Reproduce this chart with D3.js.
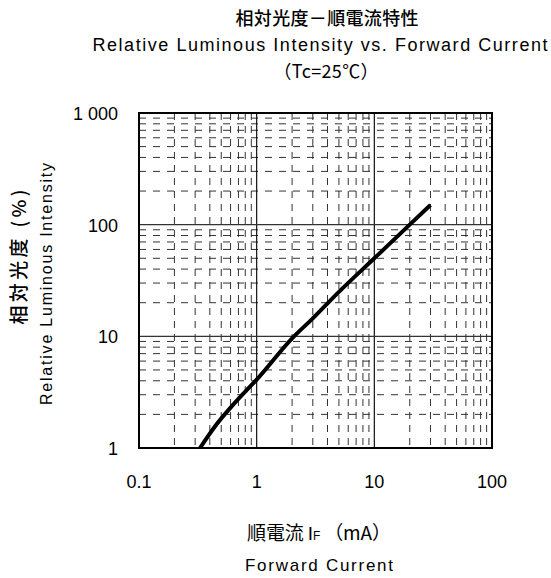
<!DOCTYPE html>
<html>
<head>
<meta charset="utf-8">
<script src="https://cdn.jsdelivr.net/npm/d3@7"></script>
<style>
  html, body { margin: 0; padding: 0; background: #fff; }
  svg { display: block; }
  .cjk { font-family: "Noto Sans CJK JP", "Noto Sans", sans-serif; }
  .lat { font-family: "Liberation Sans", Arial, sans-serif; }
</style>
</head>
<body>
<script>
// Forward current (mA) and relative luminous intensity (%) along the curve
const currentMA = [0.33, 0.45, 0.6, 0.8, 1, 2, 3, 5, 10, 20, 30];
const intensityPct = [1, 1.6, 2.3, 3.2, 4.1, 9.6, 14.5, 25, 50, 100, 150];

// Axis ranges and tick labels
const xDomain = [0.1, 100];
const yDomain = [1, 1000];
const xTicks = [0.1, 1, 10, 100];
const xTickLabels = ["0.1", "1", "10", "100"];
const yTicks = [1, 10, 100, 1000];
const yTickLabels = ["1", "10", "100", "1 000"];

const W = 551, H = 578;
const plot = { left: 139, top: 113, right: 492, bottom: 448 };

const svg = d3.select("body").append("svg").attr("width", W).attr("height", H);

const x = d3.scaleLog().domain(xDomain).range([plot.left, plot.right]);
const y = d3.scaleLog().domain(yDomain).range([plot.bottom, plot.top]);

// Minor grid values: 2..9 within each decade
const minorVals = (dom) => {
  const out = [];
  for (let d = dom[0]; d < dom[1] * 0.999; d *= 10) {
    for (let k = 2; k <= 9; k++) out.push(d * k);
  }
  return out;
};

const grid = svg.append("g");

// dashed minor verticals
grid.selectAll("line.vmin").data(minorVals(xDomain)).join("line")
  .attr("x1", d => x(d)).attr("x2", d => x(d))
  .attr("y1", plot.top).attr("y2", plot.bottom)
  .attr("stroke", "#333").attr("stroke-width", 1)
  .attr("stroke-dasharray", "7,6");

// dashed minor horizontals
grid.selectAll("line.hmin").data(minorVals(yDomain)).join("line")
  .attr("y1", d => y(d)).attr("y2", d => y(d))
  .attr("x1", plot.left).attr("x2", plot.right)
  .attr("stroke", "#333").attr("stroke-width", 1)
  .attr("stroke-dasharray", "7,7");

// solid major gridlines
grid.selectAll("line.vmaj").data(xTicks.slice(1, -1)).join("line")
  .attr("x1", d => x(d)).attr("x2", d => x(d))
  .attr("y1", plot.top).attr("y2", plot.bottom)
  .attr("stroke", "#111").attr("stroke-width", 1.2);
grid.selectAll("line.hmaj").data(yTicks.slice(1, -1)).join("line")
  .attr("y1", d => y(d)).attr("y2", d => y(d))
  .attr("x1", plot.left).attr("x2", plot.right)
  .attr("stroke", "#333").attr("stroke-width", 1.4);

// characteristic curve
const line = d3.line()
  .x((d, i) => x(currentMA[i]))
  .y(d => y(d))
  .curve(d3.curveMonotoneX);
svg.append("path")
  .attr("d", line(intensityPct))
  .attr("fill", "none").attr("stroke", "#000")
  .attr("stroke-width", 4).attr("stroke-linecap", "butt");

// plot frame
svg.append("rect")
  .attr("x", plot.left).attr("y", plot.top)
  .attr("width", plot.right - plot.left).attr("height", plot.bottom - plot.top)
  .attr("fill", "none").attr("stroke", "#000").attr("stroke-width", 2);

// tick labels
svg.append("g").selectAll("text").data(xTicks).join("text")
  .attr("class", "lat")
  .attr("x", d => x(d)).attr("y", 488)
  .attr("text-anchor", "middle").attr("font-size", 18)
  .text((d, i) => xTickLabels[i]);

svg.append("g").selectAll("text").data(yTicks).join("text")
  .attr("class", "lat")
  .attr("x", 118).attr("y", d => y(d) + 7)
  .attr("text-anchor", "end").attr("font-size", 18)
  .text((d, i) => yTickLabels[i]);

// titles
svg.append("text").attr("class", "cjk")
  .attr("x", 327).attr("y", 25).attr("text-anchor", "middle")
  .attr("font-size", 18).attr("font-weight", 500)
  .attr("textLength", 183).attr("lengthAdjust", "spacing")
  .text("相対光度－順電流特性");
svg.append("text").attr("class", "lat")
  .attr("x", 320).attr("y", 51).attr("text-anchor", "middle")
  .attr("font-size", 18)
  .attr("textLength", 455).attr("lengthAdjust", "spacing")
  .text("Relative Luminous Intensity vs. Forward Current");
svg.append("text").attr("class", "cjk")
  .attr("x", 326).attr("y", 78).attr("text-anchor", "middle")
  .attr("font-size", 18)
  .attr("textLength", 105).attr("lengthAdjust", "spacing")
  .text("（Tc=25℃）");

// x axis title
const xt = svg.append("text").attr("class", "cjk")
  .attr("x", 319).attr("y", 540).attr("text-anchor", "middle")
  .attr("font-size", 19)
  .attr("textLength", 144).attr("lengthAdjust", "spacing");
xt.append("tspan").text("順電流 ");
xt.append("tspan").attr("class", "lat").text("I");
xt.append("tspan").attr("class", "lat").attr("font-size", 12).text("F");
xt.append("tspan").text(" （mA）");
svg.append("text").attr("class", "lat")
  .attr("x", 319).attr("y", 571).attr("text-anchor", "middle")
  .attr("font-size", 17)
  .attr("textLength", 148).attr("lengthAdjust", "spacing")
  .text("Forward Current");

// y axis titles
svg.append("text").attr("class", "cjk")
  .attr("transform", "translate(26,257) rotate(-90)")
  .attr("text-anchor", "middle").attr("font-size", 19).attr("font-weight", 500)
  .attr("textLength", 135).attr("lengthAdjust", "spacing")
  .text("相対光度 (%)");
svg.append("text").attr("class", "lat")
  .attr("transform", "translate(52,284) rotate(-90)")
  .attr("text-anchor", "middle").attr("font-size", 16)
  .attr("textLength", 242).attr("lengthAdjust", "spacing")
  .text("Relative Luminous Intensity");
</script>
</body>
</html>
